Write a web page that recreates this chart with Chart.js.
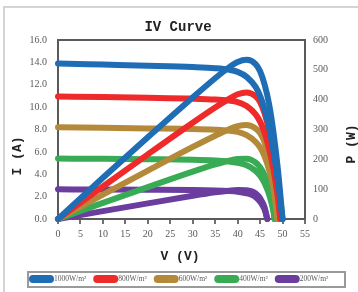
<!DOCTYPE html>
<html>
<head>
<meta charset="utf-8">
<script src="https://cdn.jsdelivr.net/npm/chart.js@4.4.1/dist/chart.umd.min.js"></script>
<style>
  html, body { margin: 0; padding: 0; background: #ffffff; }
  #wrap { width: 358px; height: 292px; position: relative; }
</style>
</head>
<body>
<div id="wrap"><canvas id="c" width="358" height="292"></canvas></div>
<script>
// ---- data ----
const irradianceLabels = ['1000W/m²', '800W/m²', '600W/m²', '400W/m²', '200W/m²'];
const seriesColors = ['#1f6db4', '#ee2a2a', '#b5893a', '#3aab55', '#6a3d9e'];

const voltage1000 = [0, 10, 20, 30, 35, 38, 40, 42, 44, 45, 46, 47, 48, 49, 50];
const current1000 = [13.9, 13.8, 13.7, 13.58, 13.48, 13.35, 13.15, 12.7, 11.8, 11.0, 9.8, 8.2, 6.0, 3.3, 0];
const power1000   = [0, 138, 274, 407.4, 471.8, 507.3, 526, 533.4, 519.2, 495, 450.8, 385.4, 288, 161.7, 0];

const voltage800 = [0, 10, 20, 30, 35, 38, 40, 42, 44, 45, 46, 47, 48, 49, 49.5];
const current800 = [10.95, 10.9, 10.84, 10.76, 10.68, 10.58, 10.45, 10.1, 9.35, 8.7, 7.7, 6.3, 4.4, 1.8, 0];
const power800   = [0, 109, 216.8, 322.8, 373.8, 402, 418, 424.2, 411.4, 391.5, 354.2, 296.1, 211.2, 88.2, 0];

const voltage600 = [0, 10, 20, 30, 35, 38, 40, 42, 44, 45, 46, 47, 48, 48.9];
const current600 = [8.2, 8.15, 8.1, 8.05, 7.98, 7.9, 7.78, 7.5, 6.9, 6.4, 5.6, 4.4, 2.7, 0];
const power600   = [0, 81.5, 162, 241.5, 279.3, 300.2, 311.2, 315, 303.6, 288, 257.6, 206.8, 129.6, 0];

const voltage400 = [0, 10, 20, 30, 35, 38, 40, 42, 44, 45, 46, 47, 48, 48.2];
const current400 = [5.4, 5.38, 5.35, 5.3, 5.23, 5.14, 5.02, 4.8, 4.3, 3.86, 3.2, 2.2, 0.6, 0];
const power400   = [0, 53.8, 107, 159, 183, 195.3, 200.8, 201.6, 189.2, 173.7, 147.2, 103.4, 28.8, 0];

const voltage200 = [0, 10, 20, 30, 35, 38, 40, 42, 43, 44, 45, 46, 46.6];
const current200 = [2.65, 2.64, 2.62, 2.59, 2.55, 2.5, 2.44, 2.3, 2.18, 1.95, 1.55, 0.85, 0];
const power200   = [0, 26.4, 52.4, 77.7, 89.3, 95, 97.6, 96.6, 93.7, 85.8, 69.8, 39.1, 0];

const voltageSets = [voltage1000, voltage800, voltage600, voltage400, voltage200];
const currentSets = [current1000, current800, current600, current400, current200];
const powerSets   = [power1000, power800, power600, power400, power200];

const chartTitle = 'IV Curve';
const xTitle = 'V (V)';
const yTitle = 'I (A)';
const y1Title = 'P (W)';

// ---- build datasets ----
const toPts = (xs, ys) => xs.map((v, j) => ({ x: v, y: ys[j] }));
const datasets = [];
irradianceLabels.forEach((lab, i) => {
  const common = {
    borderColor: seriesColors[i], backgroundColor: seriesColors[i],
    borderWidth: 6, pointRadius: 0, pointHoverRadius: 0, fill: false,
    cubicInterpolationMode: 'monotone', borderCapStyle: 'round', borderJoinStyle: 'round',
    clip: 6
  };
  datasets.push(Object.assign({ label: lab, kind: 'I', data: toPts(voltageSets[i], currentSets[i]), yAxisID: 'y' }, common));
  datasets.push(Object.assign({ label: lab + ' P', kind: 'P', data: toPts(voltageSets[i], powerSets[i]), yAxisID: 'y1' }, common));
});

const FRAME = '#5a5a5a';
const TICKC = '#595959';

const decor = {
  id: 'decor',
  beforeDraw(chart) {
    const ctx = chart.ctx;
    ctx.save();
    ctx.fillStyle = '#fff';
    ctx.fillRect(0, 0, chart.width, chart.height);
    ctx.strokeStyle = '#d4d4d4';
    ctx.lineWidth = 2;
    ctx.strokeRect(4, 7, 380, 320);
    ctx.restore();
  },
  afterDraw(chart) {
    const ctx = chart.ctx;
    const a = chart.chartArea;
    ctx.save();
    // top frame line
    ctx.strokeStyle = FRAME;
    ctx.lineWidth = 2;
    ctx.beginPath();
    ctx.moveTo(a.left - 1, a.top);
    ctx.lineTo(a.right + 1, a.top);
    ctx.stroke();
    // title
    ctx.fillStyle = '#222';
    ctx.textAlign = 'center';
    ctx.textBaseline = 'middle';
    ctx.font = 'bold 14px "Liberation Mono"';
    ctx.fillText(chartTitle, 178, 27);
    // axis titles
    ctx.font = 'bold 13px "Liberation Mono"';
    ctx.fillText(xTitle, 180, 257);
    ctx.save();
    ctx.translate(18, 156);
    ctx.rotate(-Math.PI / 2);
    ctx.fillText(yTitle, 0, 0);
    ctx.restore();
    ctx.save();
    ctx.translate(352, 144);
    ctx.rotate(-Math.PI / 2);
    ctx.fillText(y1Title, 0, 0);
    ctx.restore();
    // legend
    ctx.strokeStyle = '#9a9a9a';
    ctx.lineWidth = 2;
    ctx.strokeRect(28, 272, 317, 15);
    ctx.font = '7.5px "Liberation Serif"';
    ctx.textAlign = 'left';
    ctx.textBaseline = 'middle';
    let x = 29;
    const cy = 279;
    chart.data.datasets.forEach(ds => {
      if (ds.kind !== 'I') return;
      ctx.fillStyle = ds.borderColor;
      ctx.beginPath();
      ctx.roundRect(x, cy - 4, 25, 8, 4);
      ctx.fill();
      ctx.fillStyle = TICKC;
      ctx.fillText(ds.label, x + 25, cy);
      x += 25 + ctx.measureText(ds.label).width + 7;
    });
    ctx.restore();
  }
};

new Chart(document.getElementById('c'), {
  type: 'line',
  data: { datasets },
  plugins: [decor],
  options: {
    responsive: false,
    animation: false,
    events: [],
    layout: { padding: { top: 40, left: 0, right: 0, bottom: 0 } },
    plugins: { legend: { display: false }, title: { display: false }, tooltip: { enabled: false } },
    scales: {
      x: {
        type: 'linear', min: 0, max: 55,
        afterFit: s => { s.height = 73; },
        border: { display: true, color: FRAME, width: 2 },
        grid: { display: true, drawOnChartArea: false, drawTicks: true, tickLength: 5, color: '#707070', lineWidth: 2 },
        ticks: { stepSize: 5, padding: 4, color: TICKC, font: { family: 'Liberation Serif', size: 10 } }
      },
      y: {
        type: 'linear', position: 'left', min: 0, max: 16,
        afterFit: s => { s.width = 58; },
        border: { display: true, color: FRAME, width: 2 },
        grid: { display: false, drawTicks: false },
        ticks: { stepSize: 2, padding: 11, color: TICKC, font: { family: 'Liberation Serif', size: 10 },
                 callback: v => Number(v).toFixed(1) }
      },
      y1: {
        type: 'linear', position: 'right', min: 0, max: 600,
        afterFit: s => { s.width = 53; },
        border: { display: true, color: FRAME, width: 2 },
        grid: { display: false, drawTicks: false },
        ticks: { stepSize: 50, padding: 8, color: TICKC, font: { family: 'Liberation Serif', size: 10 } }
      }
    }
  }
});
</script>
</body>
</html>
